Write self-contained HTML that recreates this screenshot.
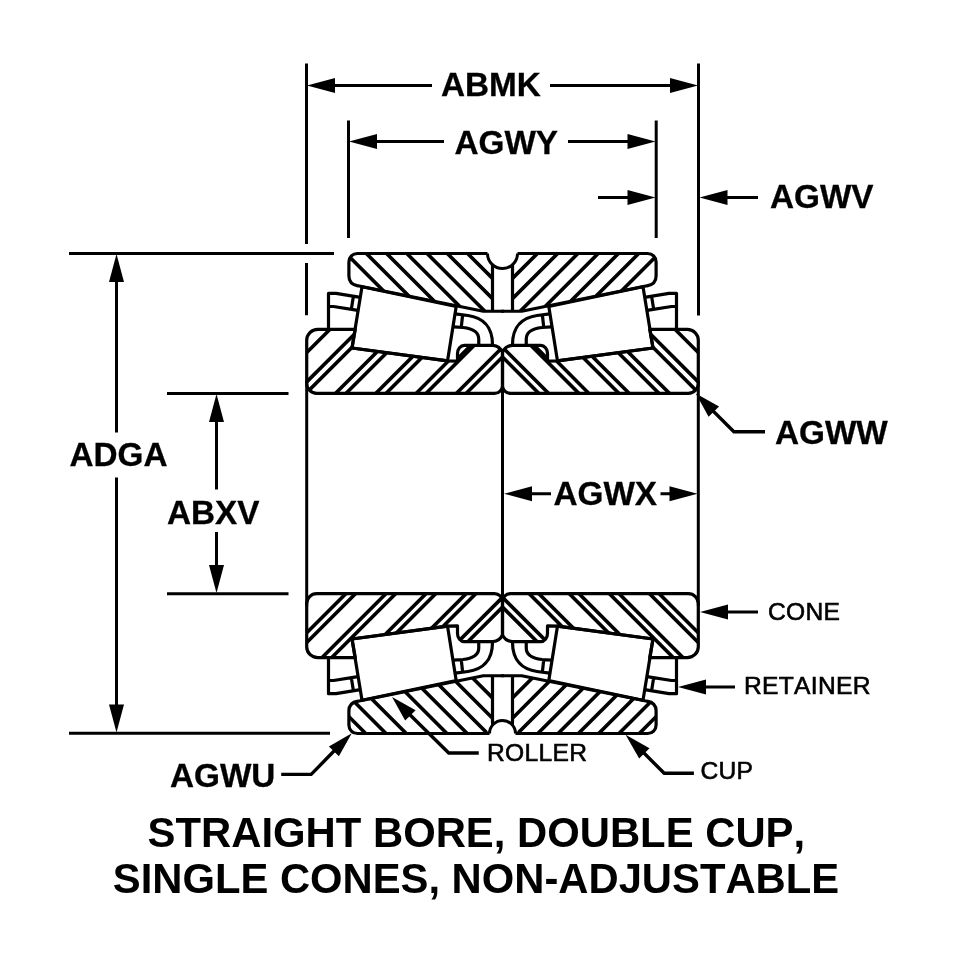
<!DOCTYPE html>
<html><head><meta charset="utf-8"><title>Bearing diagram</title>
<style>
html,body{margin:0;padding:0;background:#fff;}
svg{display:block;filter:grayscale(1);}
text{font-family:"Liberation Sans",sans-serif;fill:#000;font-kerning:none;}
.b{font-weight:bold;font-size:33.3px;stroke:#000;stroke-width:0.3px;}
.s{font-size:24.6px;stroke:#000;stroke-width:0.6px;letter-spacing:0.3px;}
.t{font-weight:bold;font-size:43px;}
</style></head><body>
<svg width="960" height="959" viewBox="0 0 960 959">
<rect width="960" height="959" fill="#fff"/>
<defs>
<path id="cupP" d="M487.5,253.5 L357.4,253.5 A8.5,8.5 0 0 0 348.9,262 L348.9,276 C348.9,282 352,284.8 358,285.8 L483.3,311.25 L492.5,311.25 L492.5,264.7 A15,15 0 0 1 487.5,253.5 Z"/>
<path id="coneP" d="M317.7,329.3 L355.3,329.3 L352,348 L447.5,360.9 L457.5,361.2 L457.5,353.6 A6.8,8.3 0 0 1 464.3,345.3 L493,345.3 Q499.5,346 502.5,352 L502.5,385.4 A8,8 0 0 1 494.5,393.4 L316.7,393.4 A10,10 0 0 1 306.7,383.4 L306.7,340.3 A11,11 0 0 1 317.7,329.3 Z"/>
<clipPath id="cCupT"><use href="#cupP"/></clipPath>
<clipPath id="cConeT"><use href="#coneP"/></clipPath>
<clipPath id="cCupB"><use href="#cupP" transform="translate(0,987.0) scale(1,-1)"/></clipPath>
<clipPath id="cCupBR"><use href="#cupP" transform="translate(1005.0,987.0) scale(-1,-1)"/></clipPath>
<clipPath id="cConeB"><use href="#coneP" transform="translate(0,987.0) scale(1,-1)"/></clipPath>
<g id="quad" fill="none" stroke="#000" stroke-width="3.2" stroke-linejoin="round" stroke-linecap="butt">
<path d="M504,311.25 L483.3,311.25 L358,285.8 C352,284.8 348.9,282 348.9,276 L348.9,262 A8.5,8.5 0 0 1 357.4,253.5 L487.5,253.5"/>
<path d="M492.5,311.25 L492.5,264.7"/>
<use href="#coneP"/>
<path d="M362,286.7 L456.2,306.5 L447.5,360.9 L352,348 Z"/>
<path d="M328.5,329.3 L328.5,293.3 L336,293.3 L360.4,297.3 M328.5,306.5 L333.5,306.5 L357.9,310.4 M353.4,296.2 L351.3,309.4 M455.2,313.9 L468,315.5 C482,317.5 492.5,326 492.5,344.5 M462.6,315 L461.3,327.2 M453.8,326.8 L463,327.5 C472,328.5 478.75,331 478.75,339 L478.75,344.5"/>
</g>
<g id="half">
<use href="#quad"/>
<use href="#quad" transform="translate(0,987.0) scale(1,-1)"/>
<g fill="none" stroke="#000" stroke-width="3.6">
<path clip-path="url(#cCupT)" d="M332.60,240 L492.60,400 M352.85,240 L512.85,400 M373.10,240 L533.10,400 M393.35,240 L553.35,400 M413.60,240 L573.60,400 M433.85,240 L593.85,400 M454.10,240 L614.10,400"/>
<path clip-path="url(#cConeT)" d="M259.30,400 L419.30,240 M299.35,400 L459.35,240 M339.40,400 L499.40,240 M379.45,400 L539.45,240 M419.50,400 L579.50,240 M459.55,400 L619.55,240 M288.60,400 L448.60,240 M328.90,400 L488.90,240 M369.20,400 L529.20,240 M449.80,400 L609.80,240 M458.5,357.8 L470,346.3 M416.1,393.4 L448.4,361.1"/>
<path clip-path="url(#cCupB)" d="M222.20,590 L372.20,740 M242.50,590 L392.50,740 M262.80,590 L412.80,740 M303.40,590 L453.40,740 M323.70,590 L473.70,740 M344.00,590 L494.00,740 M364.30,590 L514.30,740 M384.60,590 L534.60,740"/>
<path clip-path="url(#cConeB)" d="M199.50,740 L349.50,590 M209.20,740 L359.20,590 M239.60,740 L389.60,590 M249.30,740 L399.30,590 M279.70,740 L429.70,590 M289.40,740 L439.40,590 M319.80,740 L469.80,590 M329.50,740 L479.50,590 M359.90,740 L509.90,590 M369.60,740 L519.60,590 M400.00,740 L550.00,590 M409.70,740 L559.70,590"/>
<path d="M306.7,381 L306.7,606" stroke-width="3"/>
</g>
</g>
</defs>

<use href="#half"/>
<use href="#half" transform="translate(1005.0,0) scale(-1,1)"/>
<path clip-path="url(#cCupBR)" fill="none" stroke="#000" stroke-width="3.6" d="M571.90,740 L641.90,670"/>
<g fill="none" stroke="#000" stroke-width="3">
<path d="M487.5,253.5 A15,15 0 0 0 517.5,253.5"/>
<path d="M489.5,733.5 A13,13 0 0 1 515.5,733.5"/>
<path d="M502.5,351 L502.5,636"/>
<path d="M486,733.5 L489.5,733.5 M515.5,733.5 L519,733.5 M492.5,721 L492.5,725.5 M512.5,721 L512.5,725.5"/>
</g>
<g fill="none" stroke="#000" stroke-width="3">
<path d="M306.5,63.5 L306.5,244 M306.5,263 L306.5,315.3 M698.5,63.5 L698.5,315.5 M348.5,120.5 L348.5,238 M656.2,120.5 L656.2,238 M320,85.5 L432,85.5 M550,85.5 L685,85.5 M362,141.5 L444,141.5 M568,141.5 L642,141.5 M598,197.5 L642,197.5 M712,197.5 L758,197.5 M69,253.5 L334,253.5 M69,733.3 L330,733.3 M116.5,267 L116.5,432.5 M116.5,477.5 L116.5,720 M167,393.4 L288.5,393.4 M167,593.7 L288.5,593.7 M216.5,407 L216.5,489.4 M216.5,532 L216.5,580 M517,493.75 L551,493.75 M660.5,493.75 L685,493.75 M712,612 L758,612 M690,687 L735,687"/>
<path d="M705,402.9 L733.9,431.7 L765,431.7 M634,743 L664.2,773.3 L693.9,773.3 M400,705 L448.75,753 L478.75,753 M344,740.8 L311.2,774.4 L281.2,774.4" stroke-width="3.4" stroke-linejoin="miter"/>
</g>
<g fill="#000" stroke="none">
<polygon points="307.00,85.50 335.00,93.00 335.00,78.00"/>
<polygon points="698.00,85.50 670.00,78.00 670.00,93.00"/>
<polygon points="349.00,141.50 377.00,149.00 377.00,134.00"/>
<polygon points="655.50,141.50 627.50,134.00 627.50,149.00"/>
<polygon points="655.50,197.50 627.50,190.00 627.50,205.00"/>
<polygon points="699.50,197.50 727.50,205.00 727.50,190.00"/>
<polygon points="116.50,254.00 109.00,282.00 124.00,282.00"/>
<polygon points="116.50,732.50 124.00,704.50 109.00,704.50"/>
<polygon points="216.50,394.00 209.00,422.00 224.00,422.00"/>
<polygon points="216.50,593.00 224.00,565.00 209.00,565.00"/>
<polygon points="504.00,493.75 532.00,501.25 532.00,486.25"/>
<polygon points="697.50,493.75 669.50,486.25 669.50,501.25"/>
<polygon points="695.80,393.60 708.60,416.86 719.06,406.40"/>
<polygon points="700.00,612.00 728.00,619.50 728.00,604.50"/>
<polygon points="678.00,687.00 706.00,694.50 706.00,679.50"/>
<polygon points="625.60,734.70 639.18,758.60 649.50,748.28"/>
<polygon points="392.00,697.00 405.15,720.62 415.62,710.15"/>
<polygon points="351.80,733.20 328.92,746.45 338.89,756.28"/>
</g>
<text class="b" x="441" y="95.7">ABMK</text>
<text class="b" x="454.5" y="153.5">AGWY</text>
<text class="b" x="770" y="208">AGWV</text>
<text class="b" x="69.5" y="466">ADGA</text>
<text class="b" x="167" y="524">ABXV</text>
<text class="b" x="553.5" y="504.5">AGWX</text>
<text class="b" x="775" y="443.5">AGWW</text>
<text class="b" x="170" y="787">AGWU</text>
<text class="s" x="768" y="620">CONE</text>
<text class="s" x="744" y="694">RETAINER</text>
<text class="s" x="700.5" y="779">CUP</text>
<text class="s" x="487" y="761.3">ROLLER</text>
<text class="t" x="147.6" y="846.7" textLength="657.5" lengthAdjust="spacingAndGlyphs">STRAIGHT BORE, DOUBLE CUP,</text>
<text class="t" x="112.8" y="893.3" textLength="726.3" lengthAdjust="spacingAndGlyphs">SINGLE CONES, NON-ADJUSTABLE</text>

</svg></body></html>
